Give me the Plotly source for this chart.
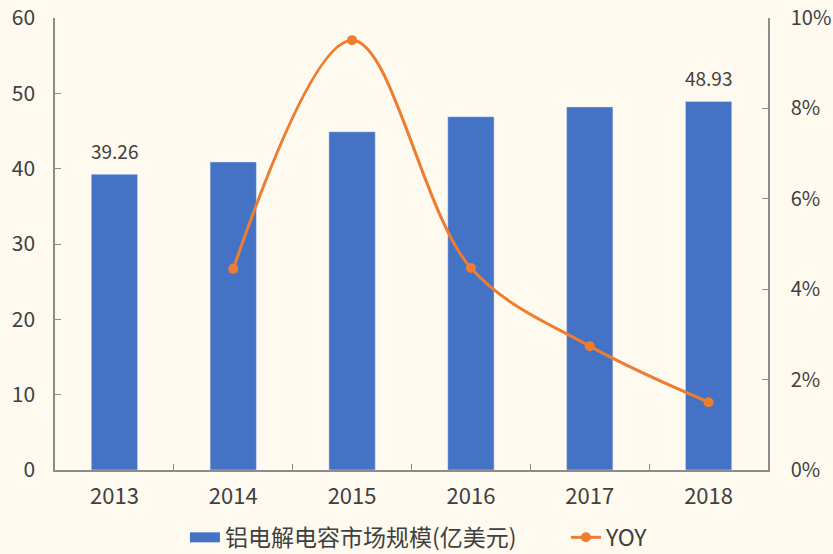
import plotly.graph_objects as go

years = ["2013", "2014", "2015", "2016", "2017", "2018"]
market = [39.26, 40.9, 44.9, 46.9, 48.2, 48.93]
yoy = [None, 0.0445, 0.0951, 0.0447, 0.0274, 0.0150]
bar_labels = ["39.26", "", "", "", "", "48.93"]

bar_name = "铝电解电容市场规模(亿美元)"
line_name = "YOY"

font_family = "Noto Sans CJK SC, Noto Sans, sans-serif"
text_color = "#404040"
axis_color = "#8c8c8c"
bar_color = "#4472c4"
line_color = "#ed7d31"
bg = "#fffaf0"

fig = go.Figure()
fig.add_trace(go.Bar(
    x=years, y=market, name=bar_name, showlegend=False,
    marker=dict(color=bar_color),
))
# legend-only entry drawn as a wide rectangle like the original
fig.add_trace(go.Scatter(
    x=[None], y=[None], name=bar_name, mode="lines",
    line=dict(color=bar_color, width=11), legendwidth=336,
))
fig.add_trace(go.Scatter(
    x=years, y=yoy, name=line_name, yaxis="y2",
    mode="lines+markers",
    line=dict(color=line_color, width=3, shape="spline", smoothing=1.0),
    marker=dict(color=line_color, size=10),
    connectgaps=False,
))

# data labels: category axis positions are the serial index of each category
for idx, (val, lab) in enumerate(zip(market, bar_labels)):
    if lab:
        fig.add_annotation(x=idx, y=val, xref="x", yref="y", text=lab,
                           showarrow=False, yanchor="bottom", yshift=8,
                           font=dict(size=19, color=text_color))

yfont = dict(size=20, color=text_color)
xfont = dict(size=22, color=text_color)
fig.update_layout(
    width=833, height=554,
    paper_bgcolor=bg, plot_bgcolor=bg,
    font=dict(family=font_family, color=text_color, size=21),
    margin=dict(l=55, r=65, t=18, b=84, autoexpand=False),
    bargap=0.61,
    showlegend=True,
    legend=dict(orientation="h", xref="container", yref="container",
                x=0.222, xanchor="left", y=0.03, yanchor="middle",
                font=dict(size=23, color=text_color),
                traceorder="normal", bgcolor="rgba(0,0,0,0)"),
    xaxis=dict(
        type="category", range=[-0.5, 5.5], showline=True, linecolor=axis_color,
        linewidth=1.5, ticks="inside", tickson="boundaries", ticklen=6,
        tickcolor=axis_color, showgrid=False, tickfont=xfont, automargin=False,
        ticklabelstandoff=6,
    ),
    yaxis=dict(
        range=[0, 60], dtick=10, showline=True, linecolor=axis_color, linewidth=1.5,
        ticks="inside", ticklen=6, tickcolor=axis_color, showgrid=False, zeroline=False,
        tickfont=dict(size=21, color=text_color), automargin=False, ticklabelstandoff=14,
    ),
    yaxis2=dict(
        range=[0, 0.10], dtick=0.02, tickformat=".0%", overlaying="y", side="right",
        showline=True, linecolor=axis_color, linewidth=1.5,
        ticks="inside", ticklen=6, tickcolor=axis_color, showgrid=False, zeroline=False,
        tickfont=yfont, automargin=False, ticklabelstandoff=17,
    ),
)

fig.write_html(
    "out.html",
    config=dict(displayModeBar=False),
    post_script="document.body.style.margin='0';document.body.style.background='#fffaf0';",
)
